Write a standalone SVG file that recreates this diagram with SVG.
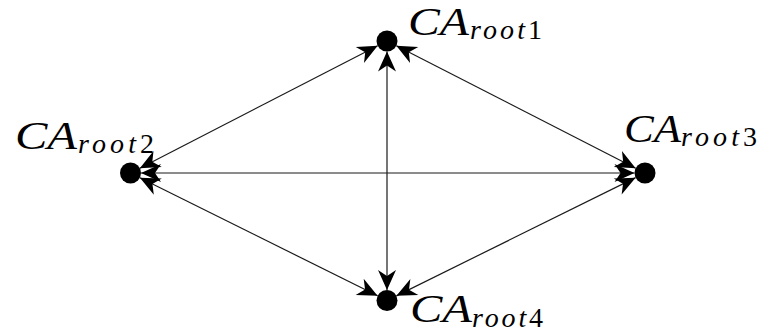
<svg xmlns="http://www.w3.org/2000/svg" width="759" height="332" viewBox="0 0 759 332">
<style>
.dot{fill:#000}
.edge{stroke:#1a1a1a;stroke-width:1.2;fill:none;marker-start:url(#ah);marker-end:url(#ah)}
.lbl{font-family:"Liberation Serif","Times New Roman",serif;font-style:italic;fill:#000}
.big{font-size:39px}
.sub{font-size:28px}
.up{font-style:normal}
</style>
<defs>
<marker id="ah" markerUnits="userSpaceOnUse" viewBox="-22 -11 24 22" markerWidth="24" markerHeight="22" refX="0" refY="0" orient="auto-start-reverse">
<path d="M0,0 L-20,-9 L-14,0 L-20,9 Z" fill="#000"/>
</marker>
</defs>
<rect width="759" height="332" fill="#fff"/>
<g id="connectors">
<line class="edge" x1="377.66" y1="45.8" x2="139.84" y2="168.2"/>
<line class="edge" x1="396.35" y1="45.78" x2="635.65" y2="168.22"/>
<line class="edge" x1="387" y1="51.5" x2="387" y2="290"/>
<line class="edge" x1="141" y1="173" x2="634.5" y2="173"/>
<line class="edge" x1="139.9" y1="177.67" x2="377.6" y2="295.83"/>
<line class="edge" x1="635.59" y1="177.65" x2="396.41" y2="295.85"/>
</g>
<g id="node1">
<circle class="dot" cx="387" cy="41" r="10.5"/>
<text class="lbl big" x="408" y="35" textLength="61" lengthAdjust="spacingAndGlyphs">CA</text>
<text class="lbl sub" x="470" y="39" textLength="72" lengthAdjust="spacing">root<tspan class="up">1</tspan></text>
</g>
<g id="node2">
<circle class="dot" cx="130.5" cy="173" r="10.5"/>
<text class="lbl big" x="15" y="149" textLength="62" lengthAdjust="spacingAndGlyphs">CA</text>
<text class="lbl sub" x="78" y="153" textLength="76" lengthAdjust="spacing">root<tspan class="up">2</tspan></text>
</g>
<g id="node3">
<circle class="dot" cx="645" cy="173" r="10.5"/>
<text class="lbl big" x="624" y="142" textLength="57" lengthAdjust="spacingAndGlyphs">CA</text>
<text class="lbl sub" x="681" y="146" textLength="76" lengthAdjust="spacing">root<tspan class="up">3</tspan></text>
</g>
<g id="node4">
<circle class="dot" cx="387" cy="300.5" r="10.5"/>
<text class="lbl big" x="410" y="322" textLength="62" lengthAdjust="spacingAndGlyphs">CA</text>
<text class="lbl sub" x="472" y="327" textLength="71" lengthAdjust="spacing">root<tspan class="up">4</tspan></text>
</g>
</svg>
